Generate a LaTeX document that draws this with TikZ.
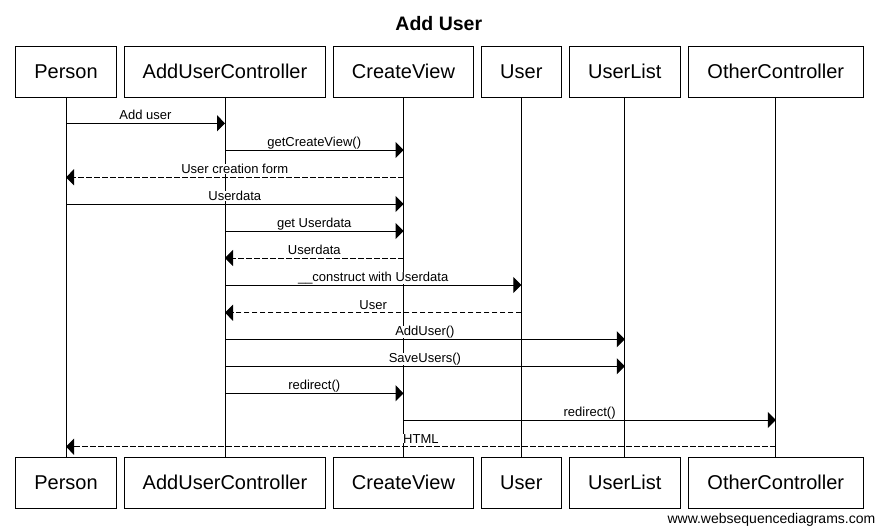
\documentclass[tikz,border=0pt]{standalone}
\usepackage{fontspec}
\setmainfont{Liberation Sans}
\usetikzlibrary{arrows.meta}
\begin{document}
\begin{tikzpicture}[x=1pt,y=-1pt,
  box/.style={draw, line width=1pt, fill=white, minimum height=50.6pt, inner sep=0pt, text height=12.8pt, text depth=0pt, font=\fontsize{20}{24}\selectfont},
  life/.style={line width=1pt},
  msg/.style={line width=1pt, -{Triangle[length=8pt,width=16pt]}},
  ret/.style={msg, dash pattern=on 5.5pt off 2.5pt},
  lbl/.style={fill=white, inner xsep=1pt, inner ysep=0pt, anchor=base, yshift=3.6pt, font=\fontsize{13}{15}\selectfont}]
\useasboundingbox[fill=white] (0,0) rectangle (876,530);
% title
\node[anchor=base, font=\bfseries\fontsize{19.5}{22}\selectfont, inner sep=0pt] (title) at (438.8,30.7) {Add User};
% participants (top)
\node[box, minimum width=101.4pt] (pt) at (66,72) {Person};
\node[box, minimum width=201.4pt] (at) at (225,72) {AddUserController};
\node[box, minimum width=140.4pt] (ct) at (403.5,72) {CreateView};
\node[box, minimum width=80.7pt] (ut) at (521.35,72) {User};
\node[box, minimum width=111pt] (lt) at (624.8,72) {UserList};
\node[box, minimum width=175pt] (ot) at (775.8,72) {OtherController};
% participants (bottom)
\node[box, minimum width=101.4pt] (pb) at (66,482.8) {Person};
\node[box, minimum width=201.4pt] (ab) at (225,482.8) {AddUserController};
\node[box, minimum width=140.4pt] (cb) at (403.5,482.8) {CreateView};
\node[box, minimum width=80.7pt] (ub) at (521.35,482.8) {User};
\node[box, minimum width=111pt] (lb) at (624.8,482.8) {UserList};
\node[box, minimum width=175pt] (ob) at (775.8,482.8) {OtherController};
% lifelines
\draw[life] (pt.south) -- (pb.north);
\draw[life] (at.south) -- (ab.north);
\draw[life] (ct.south) -- (cb.north);
\draw[life] (ut.south) -- (ub.north);
\draw[life] (lt.south) -- (lb.north);
\draw[life] (ot.south) -- (ob.north);
% messages
\draw[msg] (pt |- 0,123.3) -- node[lbl] {Add user} (at |- 0,123.3);
\draw[msg] (at |- 0,150) -- node[lbl] {getCreateView()} (ct |- 0,150);
\draw[ret] (ct |- 0,177.3) -- node[lbl] {User creation form} (pt |- 0,177.3);
\draw[msg] (pt |- 0,204) -- node[lbl] {Userdata} (ct |- 0,204);
\draw[msg] (at |- 0,231) -- node[lbl] {get Userdata} (ct |- 0,231);
\draw[ret] (ct |- 0,258) -- node[lbl] {Userdata} (at |- 0,258);
\draw[msg] (at |- 0,285) -- node[lbl] {\_\_construct with Userdata} (ut |- 0,285);
\draw[ret] (ut |- 0,312.7) -- node[lbl] {User} (at |- 0,312.7);
\draw[msg] (at |- 0,339.3) -- node[lbl] {AddUser()} (lt |- 0,339.3);
\draw[msg] (at |- 0,366.3) -- node[lbl] {SaveUsers()} (lt |- 0,366.3);
\draw[msg] (at |- 0,393.3) -- node[lbl] {redirect()} (ct |- 0,393.3);
\draw[msg] (ct |- 0,420) -- node[lbl] {redirect()} (ot |- 0,420);
\draw[ret] (ot |- 0,446.7) -- node[lbl] {HTML} (pt |- 0,446.7);
% watermark
\node[anchor=base east, inner sep=0pt, font=\fontsize{14}{16}\selectfont] (wm) at (875.5,523.5) {www.websequencediagrams.com};
\end{tikzpicture}
\end{document}
